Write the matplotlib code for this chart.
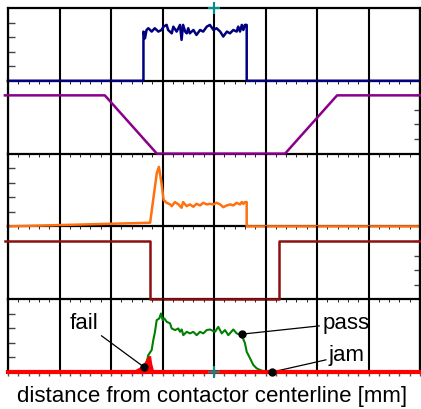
import matplotlib.pyplot as plt
import numpy as np

plt.rcParams['font.family'] = ['Liberation Sans', 'DejaVu Sans']

# panel 1 - navy trace
blue_x = [-40, -13.7, -13.7, -13.4, -13.1, -12.75, -12.1, -11.5, -10.8, -10.2, -9.8, -9.2, -8.9, -8.2, -7.9,
          -7.25, -6.6, -6.3, -6.0, -5.6, -5.3, -5.0, -4.7, -4.0, -3.4, -2.7, -2.1, -1.4, -0.8, -0.1,
          0.5, 1.2, 1.8, 2.5, 3.1, 3.75, 4.4, 4.7, 5.05, 5.4, 5.7, 6.0, 6.35, 6.35, 40]
blue_y = [0, 0, 3.38, 2.92, 3.49, 3.61, 3.38, 3.61, 3.38, 3.49, 3.72, 3.84, 3.49, 3.26, 3.72,
          3.38, 3.84, 2.81, 3.84, 3.38, 3.26, 3.61, 3.26, 3.49, 3.15, 3.49, 3.38, 3.72, 3.84, 3.49,
          3.61, 3.38, 3.04, 3.38, 3.26, 3.49, 3.38, 3.72, 3.38, 3.84, 3.49, 3.84, 3.84, 0, 0]

# panel 2 - purple ramp
purple_x = [-40.6, -21.2, -11.1, 13.8, 23.9, 40]
purple_y = [4, 4, 0, 0, 4, 4]

# panel 3 - orange trace
orange_x = [-40, -12.4, -11.8, -11.1, -10.7, -10.2, -9.8, -9.2, -8.5, -8.2, -7.6, -6.9, -6.3, -6.0, -5.3,
            -4.7, -4.0, -3.4, -2.7, -2.1, -1.4, -0.8, -0.1, 0.5, 1.2, 1.8, 2.5, 3.1, 3.75, 4.4,
            5.05, 5.4, 5.7, 6.0, 6.35, 6.35, 40]
orange_y = [0, 0.25, 1.85, 3.67, 4.09, 2.99, 1.83, 1.62, 1.51, 1.39, 1.67, 1.51, 1.28, 1.67, 1.39,
            1.51, 1.35, 1.55, 1.44, 1.62, 1.51, 1.55, 1.51, 1.62, 1.51, 1.32, 1.44, 1.51, 1.44, 1.62,
            1.51, 1.67, 1.55, 1.67, 1.67, 0, 0]

# panel 4 - dark red step
darkred_x = [-40.6, -12.4, -12.4, 12.6, 12.6, 40]
darkred_y = [4, 4, 0, 0, 4, 4]

# panel 5 - pass / fail / jam
pass_x = [-40, -13.5, -12.76, -12.1, -11.79, -11.46, -11.13, -10.62, -10.29, -9.96, -9.65, -9.18, -8.54,
          -8.21, -7.57, -6.93, -6.6, -6.27, -5.96, -5.3, -4.66, -4.02, -3.36, -2.72, -2.08, -1.42,
          -0.78, 0.19, 0.83, 1.5, 2.14, 2.78, 3.75, 4.41, 5.38, 6.02, 6.35, 7.0, 7.63, 8.29, 8.93, 10, 40]
pass_y = [0, 0, 1.16, 1.51, 2.19, 2.76, 3.56, 3.68, 4.02, 3.56, 3.68, 3.45, 3.34,
          2.99, 2.88, 2.99, 2.76, 2.92, 2.53, 2.76, 2.65, 2.76, 2.53, 2.76, 2.65, 2.88,
          2.92, 2.76, 3.1, 2.65, 2.88, 2.53, 2.92, 2.65, 2.53, 1.97, 1.39, 0.94, 0.48, 0.25, 0.14, 0, 0]
fail_x = [-40, -16.3, -15.3, -14.4, -13.7, -13.1, -12.6, -12.3, -12.1, -11.8, -11.1, 40]
fail_y = [0, 0, 0.18, 0.36, 0.6, 0.94, 1.16, 1.1, 0.6, 0.18, 0, 0]
jam_x = [-40, 40]
jam_y = [0, 0]

fig = plt.figure(figsize=(4.21, 4.09), dpi=100)
axes = fig.subplots(5, 1, sharex=True)
fig.subplots_adjust(left=8/421, right=420/421, top=1-8/409, bottom=1-372/409, hspace=0)

for i, ax in enumerate(axes):
    ax.set_xlim(-40, 40)
    ax.set_ylim(0, 5)
    ax.patch.set_visible(False)
    ax.set_xticks(np.arange(-40, 41, 10))
    ax.grid(axis='x', color='black', lw=1.5)
    for s in ax.spines.values():
        s.set_linewidth(1.6)
        s.set_color('black')
    if i > 0:
        ax.spines['top'].set_visible(False)
    ax.set_yticks([1, 2, 3, 4])
    if i % 2 == 0:
        ax.tick_params(axis='y', left=True, right=False, direction='in', length=5, width=1,
                       color='#444444', labelleft=False)
    else:
        ax.tick_params(axis='y', left=False, right=True, direction='in', length=4, width=1,
                       color='#444444', labelleft=False, labelright=False)
    ax.tick_params(axis='x', bottom=False, labelbottom=False)

bot = axes[4]
bot.set_xticks(np.arange(-40, 41, 2), minor=True)
bot.tick_params(axis='x', which='both', bottom=True, direction='out', length=3, width=1,
                color='#555555', labelbottom=False)

axes[0].plot(blue_x, blue_y, color='#000080', lw=1.8, clip_on=False, zorder=5)
axes[1].plot(purple_x, purple_y, color='#8b008b', lw=1.8, clip_on=False, zorder=5)
axes[2].plot(orange_x, orange_y, color='#ff7010', lw=1.8, clip_on=False, zorder=5)
axes[3].plot(darkred_x, darkred_y, color='#8b1010', lw=1.8, clip_on=False, zorder=5)

bot.plot(pass_x, pass_y, color='#008000', lw=1.5, zorder=4)
bot.fill_between(fail_x, fail_y, color='#ff0000', lw=0, zorder=5)
bot.plot(jam_x, jam_y, color='#ff0000', lw=3, clip_on=False, zorder=6)

# centerline markers
axes[0].plot([0], [5], marker='+', color='#009090', ms=8, mew=1.5, clip_on=False, zorder=10)
bot.plot([0], [0], marker='+', color='#009090', ms=8, mew=1.5, clip_on=False, zorder=10)

ann = dict(arrowprops=dict(arrowstyle='-', color='black', lw=0.9, shrinkA=0, shrinkB=0),
           fontsize=16, va='center')
bot.annotate('fail', xy=(-13.6, 0.34), xytext=(-25.2, 3.36), ha='center', **ann)
bot.annotate('pass', xy=(5.44, 2.6), xytext=(21.0, 3.36), ha='left', **ann)
bot.annotate('jam', xy=(11.3, 0.0), xytext=(22.3, 1.16), ha='left', **ann)
bot.plot([-13.6, 5.44, 11.3], [0.34, 2.6, 0.0], 'o', color='black', ms=5, clip_on=False, zorder=11)

fig.text(212/421, 1 - 402/409, 'distance from contactor centerline [mm]', ha='center', va='baseline',
         fontsize=16)

fig.savefig('out.png', dpi=100)
